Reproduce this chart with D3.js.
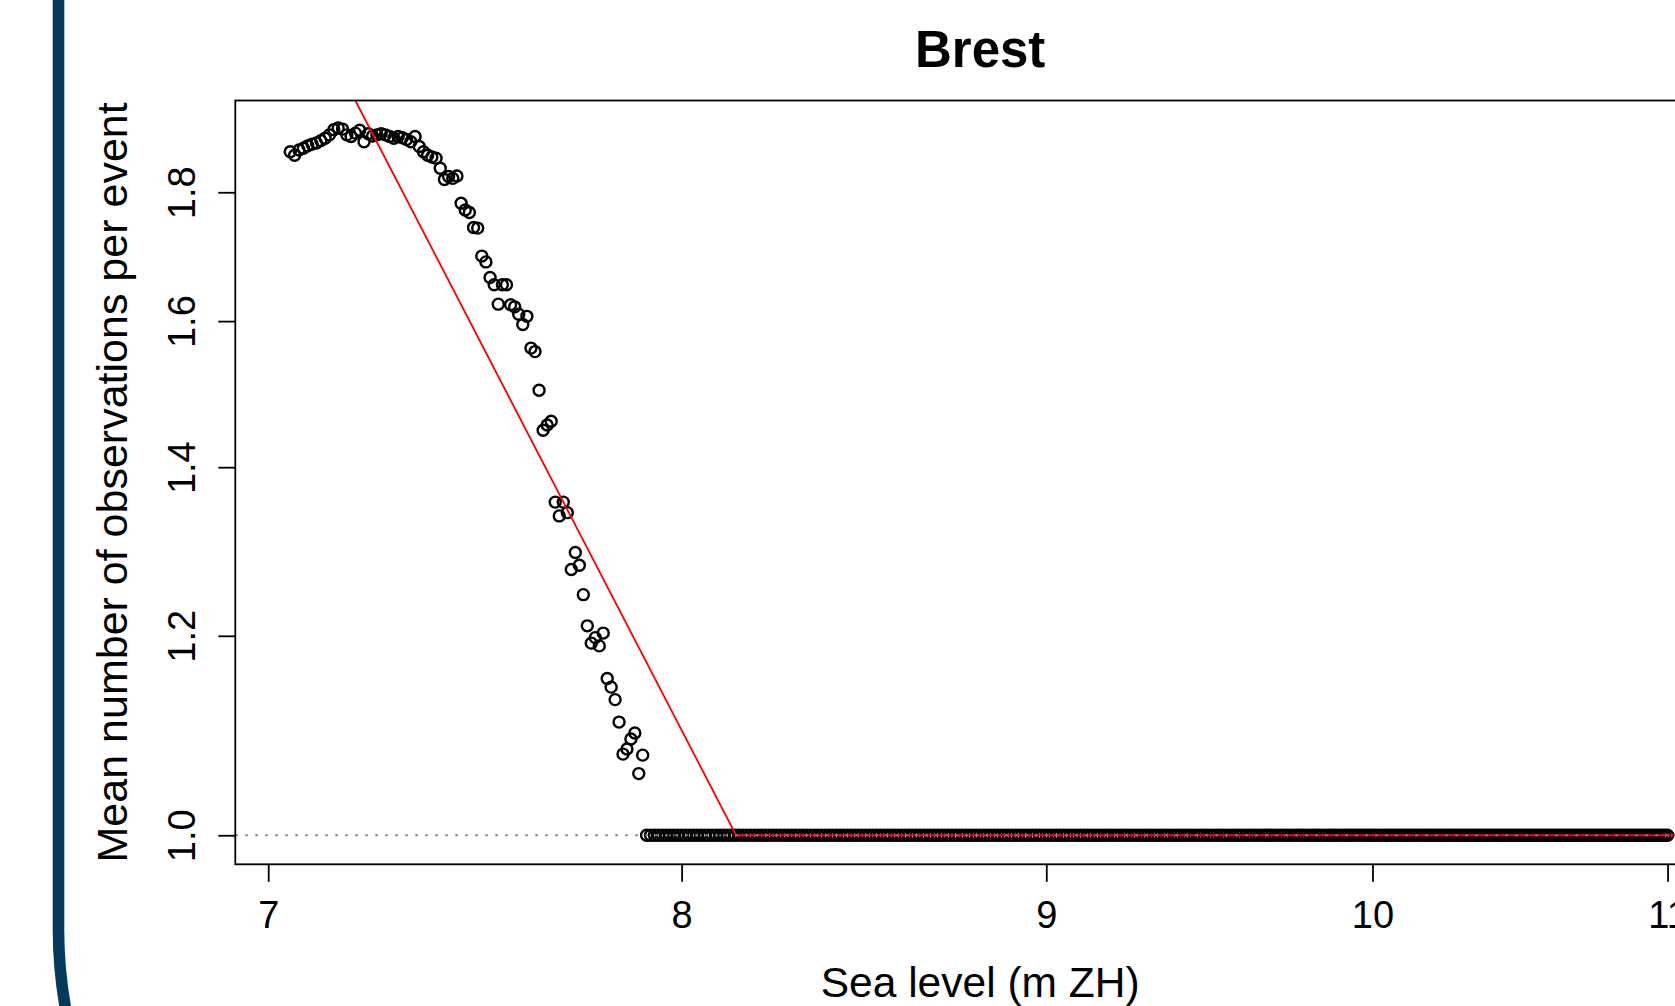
<!DOCTYPE html>
<html>
<head>
<meta charset="utf-8">
<script src="https://cdn.jsdelivr.net/npm/d3@7"></script>
<style>
  html, body { margin: 0; padding: 0; background: #fff; }
  svg { display: block; }
  text { font-family: "Liberation Sans", Arial, Helvetica, sans-serif; fill: #000; }
</style>
</head>
<body>
<svg id="chart" width="1675" height="1006"></svg>
<script>
// Brest: mean number of observations per event as a function of the threshold sea level
const title = "Brest";
const xLabel = "Sea level (m ZH)";
const yLabel = "Mean number of observations per event";
const xTicks = [7, 8, 9, 10, 11];
const yTicks = [1.0, 1.2, 1.4, 1.6, 1.8];

// threshold levels (m ZH)
const thresholds = [
  7.05, 7.06, 7.07, 7.08, 7.09,
  7.10, 7.11, 7.12, 7.13, 7.14, 7.15, 7.16, 7.17, 7.18, 7.19,
  7.20, 7.21, 7.22, 7.23, 7.24, 7.25, 7.26, 7.27, 7.28, 7.29,
  7.30, 7.31, 7.32, 7.33, 7.34, 7.35, 7.36, 7.37, 7.38, 7.39,
  7.40, 7.41, 7.42, 7.43, 7.44, 7.45, 7.46, 7.47, 7.48, 7.49,
  7.50, 7.51, 7.52, 7.53, 7.54, 7.55, 7.56, 7.57, 7.58, 7.59,
  7.60, 7.61, 7.62, 7.63, 7.64, 7.65, 7.66, 7.67, 7.68, 7.69,
  7.70, 7.71, 7.72, 7.73, 7.74, 7.75, 7.76, 7.77, 7.78, 7.79,
  7.80, 7.81, 7.82, 7.83, 7.84, 7.85, 7.86, 7.87, 7.88, 7.89,
  7.90, 7.91, 7.92, 7.93, 7.94, 7.95, 7.96, 7.97, 7.98, 7.99,
  8.00, 8.01, 8.02, 8.03, 8.04, 8.05, 8.06, 8.07, 8.08, 8.09,
  8.10, 8.11, 8.12, 8.13, 8.14, 8.15, 8.16, 8.17, 8.18, 8.19,
  8.20, 8.21, 8.22, 8.23, 8.24, 8.25, 8.26, 8.27, 8.28, 8.29,
  8.30, 8.31, 8.32, 8.33, 8.34, 8.35, 8.36, 8.37, 8.38, 8.39,
  8.40, 8.41, 8.42, 8.43, 8.44, 8.45, 8.46, 8.47, 8.48, 8.49,
  8.50, 8.51, 8.52, 8.53, 8.54, 8.55, 8.56, 8.57, 8.58, 8.59,
  8.60, 8.61, 8.62, 8.63, 8.64, 8.65, 8.66, 8.67, 8.68, 8.69,
  8.70, 8.71, 8.72, 8.73, 8.74, 8.75, 8.76, 8.77, 8.78, 8.79,
  8.80, 8.81, 8.82, 8.83, 8.84, 8.85, 8.86, 8.87, 8.88, 8.89,
  8.90, 8.91, 8.92, 8.93, 8.94, 8.95, 8.96, 8.97, 8.98, 8.99,
  9.00, 9.01, 9.02, 9.03, 9.04, 9.05, 9.06, 9.07, 9.08, 9.09,
  9.10, 9.11, 9.12, 9.13, 9.14, 9.15, 9.16, 9.17, 9.18, 9.19,
  9.20, 9.21, 9.22, 9.23, 9.24, 9.25, 9.26, 9.27, 9.28, 9.29,
  9.30, 9.31, 9.32, 9.33, 9.34, 9.35, 9.36, 9.37, 9.38, 9.39,
  9.40, 9.41, 9.42, 9.43, 9.44, 9.45, 9.46, 9.47, 9.48, 9.49,
  9.50, 9.51, 9.52, 9.53, 9.54, 9.55, 9.56, 9.57, 9.58, 9.59,
  9.60, 9.61, 9.62, 9.63, 9.64, 9.65, 9.66, 9.67, 9.68, 9.69,
  9.70, 9.71, 9.72, 9.73, 9.74, 9.75, 9.76, 9.77, 9.78, 9.79,
  9.80, 9.81, 9.82, 9.83, 9.84, 9.85, 9.86, 9.87, 9.88, 9.89,
  9.90, 9.91, 9.92, 9.93, 9.94, 9.95, 9.96, 9.97, 9.98, 9.99,
  10.00, 10.01, 10.02, 10.03, 10.04, 10.05, 10.06, 10.07, 10.08, 10.09,
  10.10, 10.11, 10.12, 10.13, 10.14, 10.15, 10.16, 10.17, 10.18, 10.19,
  10.20, 10.21, 10.22, 10.23, 10.24, 10.25, 10.26, 10.27, 10.28, 10.29,
  10.30, 10.31, 10.32, 10.33, 10.34, 10.35, 10.36, 10.37, 10.38, 10.39,
  10.40, 10.41, 10.42, 10.43, 10.44, 10.45, 10.46, 10.47, 10.48, 10.49,
  10.50, 10.51, 10.52, 10.53, 10.54, 10.55, 10.56, 10.57, 10.58, 10.59,
  10.60, 10.61, 10.62, 10.63, 10.64, 10.65, 10.66, 10.67, 10.68, 10.69,
  10.70, 10.71, 10.72, 10.73, 10.74, 10.75, 10.76, 10.77, 10.78, 10.79,
  10.80, 10.81, 10.82, 10.83, 10.84, 10.85, 10.86, 10.87, 10.88, 10.89,
  10.90, 10.91, 10.92, 10.93, 10.94, 10.95, 10.96, 10.97, 10.98, 10.99,
  11.00
];

// mean number of observations per event at each threshold
const meanObs = [
  1.868, 1.862, 1.871, 1.874, 1.878,
  1.881, 1.883, 1.887, 1.891, 1.897, 1.906, 1.909, 1.907, 1.897, 1.894,
  1.900, 1.905, 1.885, 1.899, 1.895, 1.897, 1.899, 1.897, 1.894, 1.891,
  1.894, 1.892, 1.889, 1.885, 1.894, 1.877, 1.868, 1.862, 1.859, 1.857,
  1.840, 1.821, 1.826, 1.823, 1.827, 1.782, 1.771, 1.767, 1.743, 1.742,
  1.698, 1.689, 1.665, 1.654, 1.625, 1.654, 1.654, 1.624, 1.621, 1.610,
  1.595, 1.607, 1.561, 1.556, 1.502, 1.448, 1.455, 1.460, 1.356, 1.339,
  1.356, 1.343, 1.275, 1.295, 1.280, 1.246, 1.211, 1.192, 1.198, 1.189,
  1.203, 1.154, 1.145, 1.132, 1.109, 1.077, 1.082, 1.092, 1.098, 1.058,
  1.076, 1, 1, 1, 1, 1, 1, 1, 1, 1,
  1, 1, 1, 1, 1, 1, 1, 1, 1, 1,
  1, 1, 1, 1, 1, 1, 1, 1, 1, 1,
  1, 1, 1, 1, 1, 1, 1, 1, 1, 1,
  1, 1, 1, 1, 1, 1, 1, 1, 1, 1,
  1, 1, 1, 1, 1, 1, 1, 1, 1, 1,
  1, 1, 1, 1, 1, 1, 1, 1, 1, 1,
  1, 1, 1, 1, 1, 1, 1, 1, 1, 1,
  1, 1, 1, 1, 1, 1, 1, 1, 1, 1,
  1, 1, 1, 1, 1, 1, 1, 1, 1, 1,
  1, 1, 1, 1, 1, 1, 1, 1, 1, 1,
  1, 1, 1, 1, 1, 1, 1, 1, 1, 1,
  1, 1, 1, 1, 1, 1, 1, 1, 1, 1,
  1, 1, 1, 1, 1, 1, 1, 1, 1, 1,
  1, 1, 1, 1, 1, 1, 1, 1, 1, 1,
  1, 1, 1, 1, 1, 1, 1, 1, 1, 1,
  1, 1, 1, 1, 1, 1, 1, 1, 1, 1,
  1, 1, 1, 1, 1, 1, 1, 1, 1, 1,
  1, 1, 1, 1, 1, 1, 1, 1, 1, 1,
  1, 1, 1, 1, 1, 1, 1, 1, 1, 1,
  1, 1, 1, 1, 1, 1, 1, 1, 1, 1,
  1, 1, 1, 1, 1, 1, 1, 1, 1, 1,
  1, 1, 1, 1, 1, 1, 1, 1, 1, 1,
  1, 1, 1, 1, 1, 1, 1, 1, 1, 1,
  1, 1, 1, 1, 1, 1, 1, 1, 1, 1,
  1, 1, 1, 1, 1, 1, 1, 1, 1, 1,
  1, 1, 1, 1, 1, 1, 1, 1, 1, 1,
  1, 1, 1, 1, 1, 1, 1, 1, 1, 1,
  1, 1, 1, 1, 1, 1, 1, 1, 1, 1,
  1, 1, 1, 1, 1, 1, 1, 1, 1, 1,
  1, 1, 1, 1, 1, 1, 1, 1, 1, 1,
  1
];

// fitted power-law decline, floored at one observation per event
const fitLevels = [7.2, 8.142, 11.2];
const fitMeans = [1.957, 1.0, 1.0];
const refLevel = 1;

const W = 1675, H = 1006;
const plot = { left: 235.3, top: 100.5, right: 1725, bottom: 864.3 };

const svg = d3.select("#chart");
svg.append("rect").attr("width", W).attr("height", H).attr("fill", "#fff");

// dark frame edge on the left with its rounded lower corner
svg.append("path")
  .attr("d", "M 58.5 -10 V 930 A 440 440 0 0 0 67.8 1020")
  .attr("fill", "none")
  .attr("stroke", "#053a5c")
  .attr("stroke-width", 11.6);

const x = d3.scaleLog().domain([6.926, 11.206]).range([plot.left, plot.right]);
const y = d3.scaleLog().domain([0.9738, 1.9575]).range([plot.bottom, plot.top]);

svg.append("clipPath").attr("id", "plotClip")
  .append("rect")
  .attr("x", plot.left).attr("y", plot.top)
  .attr("width", plot.right - plot.left).attr("height", plot.bottom - plot.top);

const points = thresholds.map((t, i) => ({ level: t, mean: meanObs[i] }));

// open circles
svg.append("g")
  .selectAll("circle")
  .data(points)
  .join("circle")
  .attr("cx", d => x(d.level))
  .attr("cy", d => y(d.mean))
  .attr("r", 5.5)
  .attr("fill", "none")
  .attr("stroke", "#000")
  .attr("stroke-width", 2.4);

// fitted line
const fit = fitLevels.map((t, i) => [t, fitMeans[i]]);
svg.append("path")
  .datum(fit)
  .attr("clip-path", "url(#plotClip)")
  .attr("d", d3.line().x(d => x(d[0])).y(d => y(d[1])))
  .attr("fill", "none")
  .attr("stroke", "#ff0000")
  .attr("stroke-width", 1.8);

// reference level of one observation per event
svg.append("line")
  .attr("x1", plot.left).attr("x2", plot.right)
  .attr("y1", y(refLevel)).attr("y2", y(refLevel))
  .attr("stroke", "#808080")
  .attr("stroke-width", 1.8)
  .attr("stroke-dasharray", "2.5,7.5");

// plot box
svg.append("rect")
  .attr("x", plot.left).attr("y", plot.top)
  .attr("width", plot.right - plot.left).attr("height", plot.bottom - plot.top)
  .attr("fill", "none").attr("stroke", "#000").attr("stroke-width", 1.8);

// x axis
const gx = svg.append("g")
  .attr("transform", `translate(0,${plot.bottom})`)
  .call(d3.axisBottom(x).tickValues(xTicks).tickFormat(d3.format("d")).tickSize(17.5));
gx.select(".domain").remove();
gx.selectAll(".tick line").attr("stroke", "#000").attr("stroke-width", 1.8);
gx.selectAll(".tick text")
  .attr("y", 64).attr("dy", 0)
  .style("font-size", "38px");

// y axis
const gy = svg.append("g")
  .attr("transform", `translate(${plot.left},0)`)
  .call(d3.axisLeft(y).tickValues(yTicks).tickFormat(d3.format(".1f")).tickSize(17));
gy.select(".domain").remove();
gy.selectAll(".tick line").attr("stroke", "#000").attr("stroke-width", 1.8);
gy.selectAll(".tick text")
  .attr("x", 0).attr("y", -40.3).attr("dy", 0)
  .attr("transform", "rotate(-90)")
  .attr("text-anchor", "middle")
  .style("font-size", "38px");

const midX = (plot.left + plot.right) / 2;
const midY = (plot.top + plot.bottom) / 2;

svg.append("text")
  .attr("x", midX).attr("y", 67)
  .attr("text-anchor", "middle")
  .style("font-size", "51px").style("font-weight", "bold")
  .text(title);

svg.append("text")
  .attr("x", midX).attr("y", 997)
  .attr("text-anchor", "middle")
  .style("font-size", "42.5px")
  .text(xLabel);

svg.append("text")
  .attr("transform", `translate(126.5,${midY}) rotate(-90)`)
  .attr("text-anchor", "middle")
  .style("font-size", "43px")
  .text(yLabel);
</script>
</body>
</html>
